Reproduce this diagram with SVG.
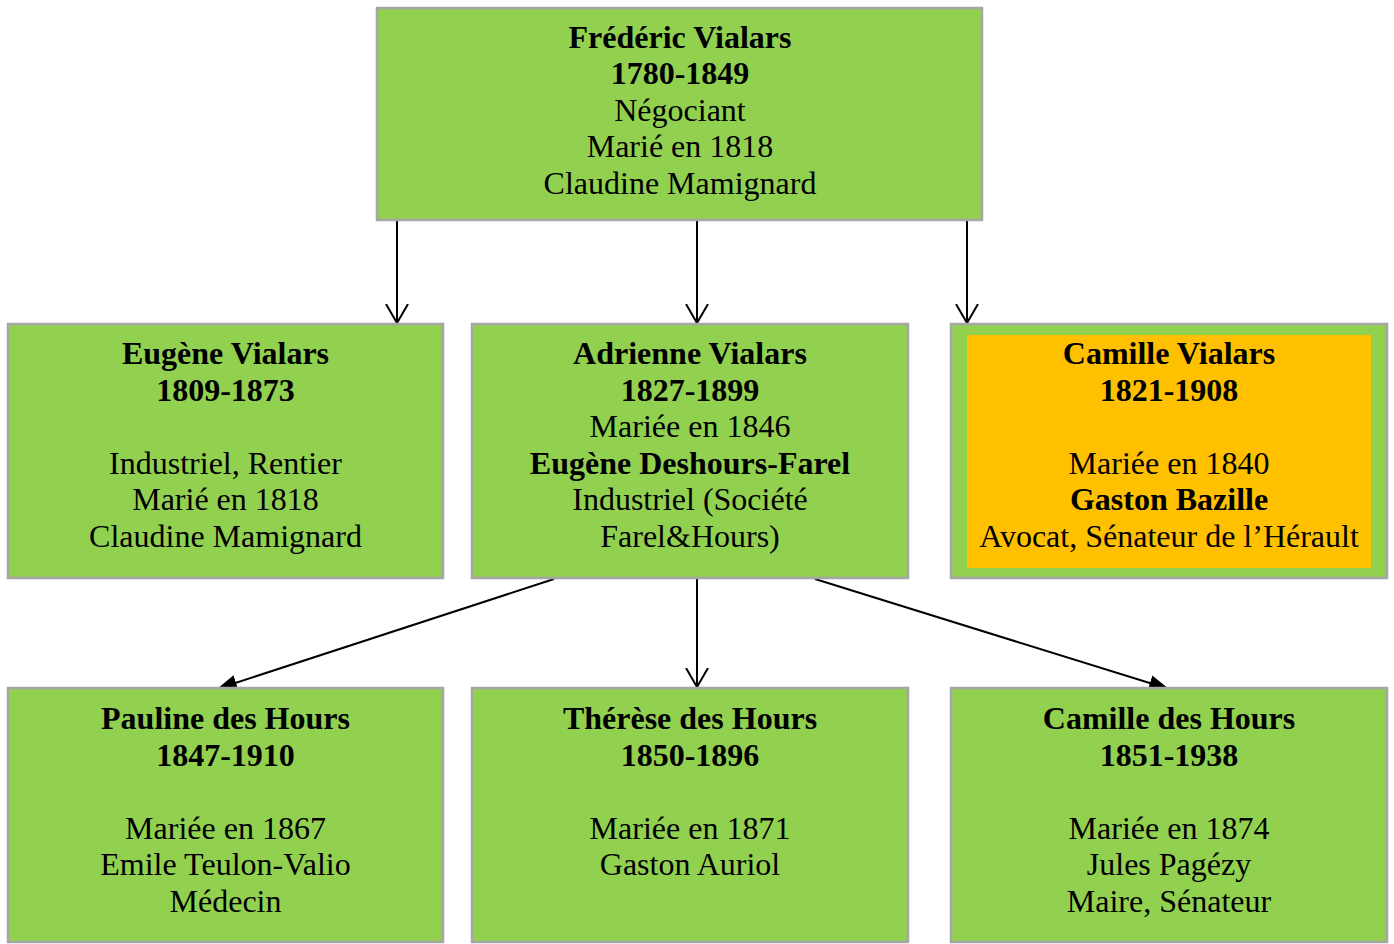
<svg xmlns="http://www.w3.org/2000/svg" width="1394" height="944" viewBox="0 0 1394 944">
<defs>
<style>
.box{fill:#92D050;stroke:#A6A6A6;stroke-width:2.5}
.inner{fill:#FFC000}
text{font-family:"Liberation Serif","Times New Roman",serif;font-size:32px;fill:#000;text-anchor:middle}
.b{font-weight:bold}
.c{stroke:#000;stroke-width:2;fill:none}
</style>
<marker id="open" markerWidth="24" markerHeight="26" refX="19" refY="11" orient="auto" markerUnits="userSpaceOnUse" viewBox="0 0 24 22">
<path d="M0,0 L19,11 L0,22" fill="none" stroke="#000" stroke-width="2"/>
</marker>
<marker id="fill" markerWidth="22" markerHeight="18" refX="20" refY="8" orient="auto" markerUnits="userSpaceOnUse" viewBox="0 0 22 16">
<path d="M0,0 L20,8 L0,16 Z" fill="#000"/>
</marker>
</defs>
<rect width="1394" height="944" fill="#fff"/>
<g id="connectors">
<line class="c" x1="397" y1="221" x2="397" y2="323" marker-end="url(#open)"/>
<line class="c" x1="697" y1="221" x2="697" y2="323" marker-end="url(#open)"/>
<line class="c" x1="967" y1="221" x2="967" y2="323" marker-end="url(#open)"/>
<line class="c" x1="554" y1="579" x2="217" y2="689" marker-end="url(#fill)"/>
<line class="c" x1="697" y1="579" x2="697" y2="687" marker-end="url(#open)"/>
<line class="c" x1="815" y1="579" x2="1169" y2="689" marker-end="url(#fill)"/>
</g>
<g id="frederic">
<rect class="box" x="377" y="8" width="605" height="212"/>
<text x="680" y="47.5" class="b">Frédéric Vialars</text>
<text x="680" y="84" class="b">1780-1849</text>
<text x="680" y="120.5">Négociant</text>
<text x="680" y="157">Marié en 1818</text>
<text x="680" y="193.5">Claudine Mamignard</text>
</g>
<g id="eugene">
<rect class="box" x="8" y="324" width="435" height="254"/>
<text x="225.5" y="364" class="b">Eugène Vialars</text>
<text x="225.5" y="400.6" class="b">1809-1873</text>
<text x="225.5" y="473.8">Industriel, Rentier</text>
<text x="225.5" y="510.4">Marié en 1818</text>
<text x="225.5" y="547">Claudine Mamignard</text>
</g>
<g id="adrienne">
<rect class="box" x="472" y="324" width="436" height="254"/>
<text x="690" y="364" class="b">Adrienne Vialars</text>
<text x="690" y="400.6" class="b">1827-1899</text>
<text x="690" y="437.2">Mariée en 1846</text>
<text x="690" y="473.8" class="b">Eugène Deshours-Farel</text>
<text x="690" y="510.4">Industriel (Société</text>
<text x="690" y="547">Farel&amp;Hours)</text>
</g>
<g id="camille-vialars">
<rect class="box" x="951" y="324" width="436" height="254"/>
<rect class="inner" x="967" y="335" width="404" height="233"/>
<text x="1169" y="364" class="b">Camille Vialars</text>
<text x="1169" y="400.6" class="b">1821-1908</text>
<text x="1169" y="473.8">Mariée en 1840</text>
<text x="1169" y="510.4" class="b">Gaston Bazille</text>
<text x="1169" y="547">Avocat, Sénateur de l’Hérault</text>
</g>
<g id="pauline">
<rect class="box" x="8" y="688" width="435" height="254"/>
<text x="225.5" y="729" class="b">Pauline des Hours</text>
<text x="225.5" y="765.6" class="b">1847-1910</text>
<text x="225.5" y="838.8">Mariée en 1867</text>
<text x="225.5" y="875.4">Emile Teulon-Valio</text>
<text x="225.5" y="912">Médecin</text>
</g>
<g id="therese">
<rect class="box" x="472" y="688" width="436" height="254"/>
<text x="690" y="729" class="b">Thérèse des Hours</text>
<text x="690" y="765.6" class="b">1850-1896</text>
<text x="690" y="838.8">Mariée en 1871</text>
<text x="690" y="875.4">Gaston Auriol</text>
</g>
<g id="camille-des-hours">
<rect class="box" x="951" y="688" width="436" height="254"/>
<text x="1169" y="729" class="b">Camille des Hours</text>
<text x="1169" y="765.6" class="b">1851-1938</text>
<text x="1169" y="838.8">Mariée en 1874</text>
<text x="1169" y="875.4">Jules Pagézy</text>
<text x="1169" y="912">Maire, Sénateur</text>
</g>
</svg>
